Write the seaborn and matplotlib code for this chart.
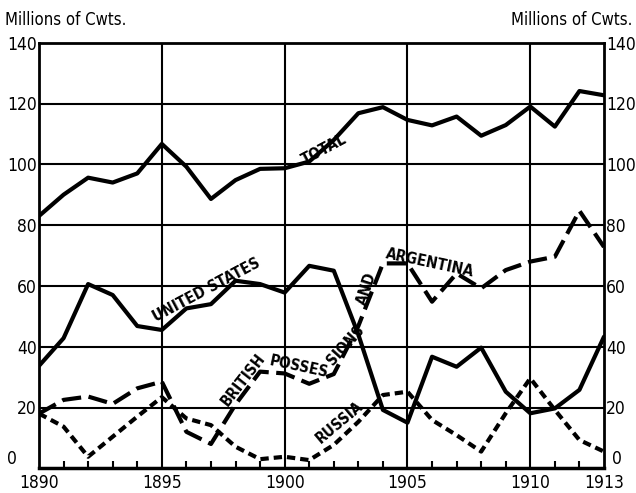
import matplotlib
matplotlib.use("Agg")
import matplotlib.pyplot as plt
import seaborn as sns
import pandas as pd
from matplotlib.ticker import MultipleLocator, FixedLocator, FuncFormatter

# Данные (млн центнеров)
years = list(range(1890, 1914))
total = [83, 90, 95.6, 94, 97, 106.7, 99.2, 88.6, 94.8, 98.5, 98.7, 100.9,
         108, 116.8, 118.8, 114.6, 112.8, 115.7, 109.4, 112.9, 119, 112.4, 124.1, 122.7]
united_states = [33.7, 42.8, 60.6, 57, 46.8, 45.5, 52.6, 54, 61.7, 60.6, 57.8, 66.6,
                 65, 44, 19.2, 15, 36.7, 33.4, 39.7, 25.2, 18.1, 19.7, 25.8, 43.3]
british_argentina = [18, 22.5, 23.6, 21.2, 26.3, 28.5, 12, 8, 21, 31.8, 31.2, 27.8,
                     31, 46.8, 67.4, 67.4, 54.8, 64.1, 59.2, 65.2, 68, 69.6, 84.7, 72.8]
russia = [18, 13.7, 3.8, 10.4, 17, 23.4, 16.4, 14.2, 7.1, 3, 3.8, 2.7,
          7.7, 15.3, 24.1, 25.2, 15.9, 10.9, 5.5, 18.1, 29.6, 19.2, 9.3, 5.5]

year_labels = [1890, 1895, 1900, 1905, 1910, 1913]

sns.set_theme(style="white")
plt.rcParams['font.family'] = ['DejaVu Sans']
plt.rcParams['font.stretch'] = 'condensed'
plt.rcParams['text.color'] = 'black'
plt.rcParams['xtick.color'] = 'black'
plt.rcParams['ytick.color'] = 'black'

fig = plt.figure(figsize=(6.36, 4.93), dpi=100)
ax = fig.add_axes([39 / 636, (493 - 468.3) / 493, (604 - 39) / 636, (468.3 - 42.7) / 493])

# сетка
for yv in range(20, 140, 20):
    ax.axhline(yv, color="black", lw=1.5, zorder=1)
for xv in [1895, 1900, 1905, 1910]:
    ax.axvline(xv, color="black", lw=1.5, zorder=1)

sns.lineplot(x=years, y=total, color="black", lw=3, ax=ax, zorder=3)
sns.lineplot(x=years, y=united_states, color="black", lw=3, ax=ax, zorder=3)
sns.lineplot(x=years, y=british_argentina, color="black", lw=3, ax=ax, zorder=3)
sns.lineplot(x=years, y=russia, color="black", lw=3, ax=ax, zorder=3)
ax.lines[-2].set_dashes((4.6, 1.8))
ax.lines[-1].set_dashes((2.0, 1.2))

ax.set_xlim(1890, 1913)
ax.set_ylim(0, 140)
ax.xaxis.set_major_locator(FixedLocator(year_labels))
ax.xaxis.set_minor_locator(MultipleLocator(1))
ax.yaxis.set_major_locator(MultipleLocator(20))
# "0" рисуем отдельно чуть выше, чтобы не налезал на годы
ax.yaxis.set_major_formatter(FuncFormatter(lambda v, p: "" if v == 0 else f"{v:.0f}"))
ax.tick_params(axis="x", which="major", length=0, labelsize=12.5, pad=4)
ax.tick_params(axis="x", which="minor", direction="in", length=5, width=1.5, bottom=True)
ax.tick_params(axis="y", length=0, labelsize=12.5, labelright=True, pad=1.5)
for sp in ax.spines.values():
    sp.set_color("black")
    sp.set_linewidth(2)
ax.spines["bottom"].set_linewidth(2.5)

ytr = ax.get_yaxis_transform()
ax.text(-0.048, 0, "0", transform=ytr, ha="center", va="bottom", fontsize=12.5)
ax.text(1.023, 0, "0", transform=ytr, ha="center", va="bottom", fontsize=12.5)

# подписи линий
lab = dict(fontsize=11, fontweight="bold", ha="center", va="center",
           color="black", zorder=5)
ax.text(1901.6, 105, "TOTAL", rotation=28, **lab)
ax.text(1896.8, 58.8, "UNITED STATES", rotation=28, **lab)
ax.text(1898.3, 29, "BRITISH", rotation=52, **lab)
ax.text(1900.6, 33.5, "POSSES", rotation=-12, **lab)
ax.text(1902.5, 40.5, "SIONS", rotation=48, **lab)
ax.text(1903.35, 59, "AND", rotation=72, **lab)
ax.text(1905.9, 67.5, "ARGENTINA", rotation=-12, **lab)
ax.text(1902.25, 15, "RUSSIA", rotation=40, **lab)

fig.text(5 / 636, 1 - 20 / 493, "Millions of Cwts.", fontsize=12, ha="left", va="center")
fig.text(632 / 636, 1 - 20 / 493, "Millions of Cwts.", fontsize=12, ha="right", va="center")

fig.savefig("out.png", dpi=100)
